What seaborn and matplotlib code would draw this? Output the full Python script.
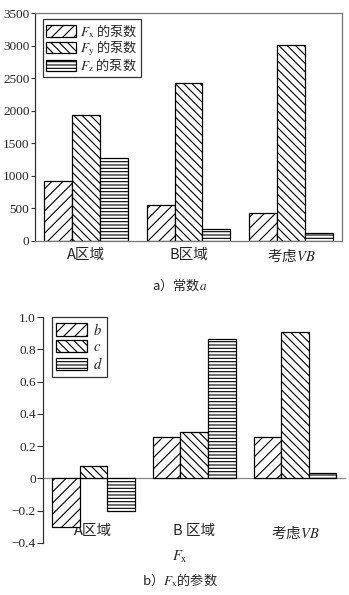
import matplotlib
matplotlib.use("Agg")
import matplotlib.pyplot as plt
import seaborn as sns
import pandas as pd
from matplotlib.patches import Patch

sns.set_theme(style="white")
plt.rcParams['font.family'] = ['Liberation Serif', 'Noto Sans CJK SC', 'DejaVu Sans']
plt.rcParams['mathtext.fontset'] = 'stix'
plt.rcParams['hatch.linewidth'] = 0.8
plt.rcParams['axes.unicode_minus'] = True

CJK = 'Noto Sans CJK SC'

# ---- data ----
categories = ['A区域', 'B区域', '考虑$VB$']
categories_b = ['A区域', 'B 区域', '考虑$VB$']
pump_series = [r'$F_\mathrm{x}$ 的泵数', r'$F_\mathrm{y}$ 的泵数', r'$F_\mathrm{z}$ 的泵数']
fx_pumps = [920, 550, 430]
fy_pumps = [1940, 2430, 3010]
fz_pumps = [1280, 190, 120]
param_series = ['$b$', '$c$', '$d$']
b_vals = [-0.30, 0.26, 0.26]
c_vals = [0.08, 0.29, 0.91]
d_vals = [-0.20, 0.865, 0.035]
yticks_a = [0, 500, 1000, 1500, 2000, 2500, 3000, 3500]
yticks_b = [-0.4, -0.2, 0, 0.2, 0.4, 0.6, 0.8, 1.0]
ytick_labels_b = ['−0.4', '−0.2', '0', '0.2', '0.4', '0.6', '0.8', '1.0']

hatches = ['///', '\\\\\\\\', '-----']

df_a = pd.DataFrame({
    'cat': categories * 3,
    'series': sum([[s] * 3 for s in pump_series], []),
    'val': fx_pumps + fy_pumps + fz_pumps,
})
df_b = pd.DataFrame({
    'cat': categories_b * 3,
    'series': sum([[s] * 3 for s in param_series], []),
    'val': b_vals + c_vals + d_vals,
})

fig = plt.figure(figsize=(3.49, 5.95), dpi=100)
ax1 = fig.add_axes([0.1003, 0.595, 0.8797, 0.383])
ax2 = fig.add_axes([0.123, 0.0874, 0.867, 0.3796])

FS = 9.5
CAT_FS = 10.5

def draw(ax, df, labels):
    sns.barplot(data=df, x='cat', y='val', hue='series', hue_order=labels,
                palette=['white'] * 3, edgecolor='black', linewidth=0.9,
                width=0.82, ax=ax, legend=False, saturation=1)
    for cont, h in zip(ax.containers, hatches):
        for bar in cont:
            bar.set_hatch(h)
    handles = [Patch(facecolor='white', edgecolor='black', hatch=h, label=l, linewidth=0.9)
               for h, l in zip(hatches, labels)]
    return handles

# ---- panel a ----
h1 = draw(ax1, df_a, pump_series)
ax1.set_ylim(0, 3500)
ax1.set_xlim(-0.5, 2.5)
ax1.set_yticks(yticks_a)
ax1.set_yticklabels([str(v) for v in yticks_a], fontsize=FS)
ax1.set_xticks(range(3))
ax1.set_xticklabels(categories, fontsize=CAT_FS, family=CJK)
ax1.set_xlabel('')
ax1.set_ylabel('')
ax1.tick_params(axis='y', direction='out', length=3, width=0.8, color='#333333', left=True, pad=1)
ax1.tick_params(axis='x', length=0, pad=5)
for s in ['top', 'right', 'bottom']:
    ax1.spines[s].set_color('#777777')
    ax1.spines[s].set_linewidth(0.9)
ax1.spines['left'].set_color('#333333')
ax1.spines['left'].set_linewidth(0.9)
leg1 = ax1.legend(handles=h1, loc='upper left', bbox_to_anchor=(0.025, 0.975),
                  prop={'family': CJK, 'size': FS},
                  frameon=True, fancybox=False, edgecolor='#333333', framealpha=1,
                  handlelength=2.3, handleheight=1.0, labelspacing=-0.12,
                  handletextpad=0.3, borderpad=0.25, borderaxespad=0)
leg1.get_frame().set_linewidth(0.9)
fig.text(0.515, 1 - 285 / 595, 'a）常数$a$', ha='center', va='center', fontsize=FS, family=CJK)

# ---- panel b ----
h2 = draw(ax2, df_b, param_series)
ax2.spines['bottom'].set_position(('data', -0.275))
ax2.spines['bottom'].set_color('none')
for s in ['top', 'right']:
    ax2.spines[s].set_visible(False)
ax2.spines['left'].set_color('#333333')
ax2.spines['left'].set_linewidth(0.9)
ax2.set_ylim(-0.4, 1.0)
ax2.set_xlim(-0.5, 2.5)
ax2.set_yticks(yticks_b)
ax2.set_yticklabels(ytick_labels_b, fontsize=FS)
ax2.set_xticks(range(3))
ax2.set_xticklabels(categories_b, fontsize=CAT_FS, family=CJK)
ax2.set_xlabel('')
ax2.set_ylabel('')
ax2.axhline(0, color='#888888', lw=0.9, zorder=0.5)
ax2.tick_params(axis='y', direction='out', length=4, width=0.8, color='#333333', left=True, pad=1)
ax2.tick_params(axis='x', length=0, pad=1)
leg2 = ax2.legend(handles=h2, loc='upper left', bbox_to_anchor=(0.03, 1.0),
                  prop={'size': FS + 1},
                  frameon=True, fancybox=False, edgecolor='#333333', framealpha=1,
                  handlelength=2.1, handleheight=0.95, labelspacing=0.15,
                  handletextpad=0.4, borderpad=0.3, borderaxespad=0)
leg2.get_frame().set_linewidth(0.9)
fig.text(0.515, 1 - 557 / 595, r'$F_\mathrm{x}$', ha='center', va='center', fontsize=FS + 1)
fig.text(0.515, 1 - 580 / 595, r'b）$F_\mathrm{x}$的参数', ha='center', va='center', fontsize=FS, family=CJK)

fig.savefig('out.png', dpi=100)
